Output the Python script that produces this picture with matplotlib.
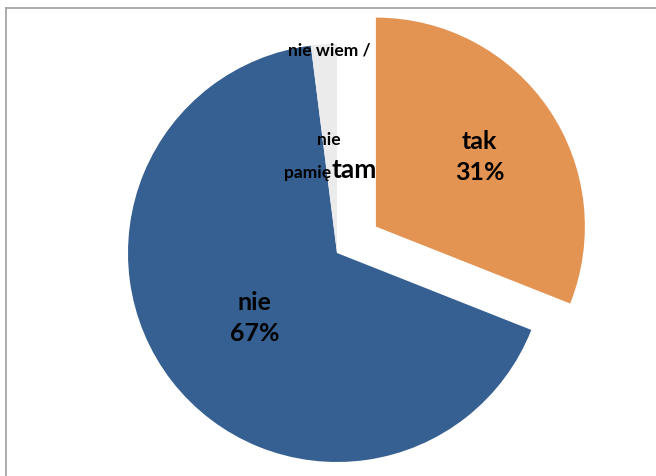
import numpy as np
import matplotlib.pyplot as plt

# data
categories = ['tak', 'nie', 'nie wiem / nie pamiętam']
shares = [31, 67, 2]
colors = ['#E39453', '#366092', '#EBEBEB']

plt.rcParams['font.family'] = ['Lato', 'DejaVu Sans']

fig = plt.figure(figsize=(6.56, 4.77), dpi=100)
ax = fig.add_axes([0, 0, 1, 1])

# pie in pixel-like coordinates (y up); explode is in the same units
cx, cy, r = 337, 223, 209
wedges, _ = ax.pie(shares, colors=colors, startangle=90, counterclock=False,
                   explode=[47, 0, 0], radius=r, center=(cx, cy),
                   wedgeprops=dict(linewidth=0))
ax.set_xlim(0, 656)
ax.set_ylim(0, 477)
ax.set_aspect('equal')
ax.axis('off')

# labels for the two big slices
label_dist = [0.6, 0.5]
for i in range(2):
    w = wedges[i]
    mid = np.radians((w.theta1 + w.theta2) / 2)
    x0, y0 = w.center
    lx = x0 + label_dist[i] * r * np.cos(mid)
    ly = y0 + label_dist[i] * r * np.sin(mid)
    ax.text(lx, ly, f'{categories[i]}\n{shares[i]}%', ha='center', va='center',
            fontsize=18, fontweight='bold', linespacing=1.4)

# the small slice label, broken over the pie like in the original
ax.text(329, 427, 'nie wiem /', ha='center', va='center', fontsize=12.5, fontweight='bold')
ax.text(329, 337, 'nie', ha='center', va='center', fontsize=12.5, fontweight='bold')
ax.text(331, 304, 'pamię', ha='right', va='center', fontsize=12.5, fontweight='bold')
ax.text(331, 307, 'tam', ha='left', va='center', fontsize=19, fontweight='bold')

# chart frame (cut off on the right and bottom)
ax.plot([6, 6], [0, 468], color='#A6A6A6', lw=1.3)
ax.plot([6, 656], [468, 468], color='#A6A6A6', lw=1.3)

fig.savefig('out.png', dpi=100)
